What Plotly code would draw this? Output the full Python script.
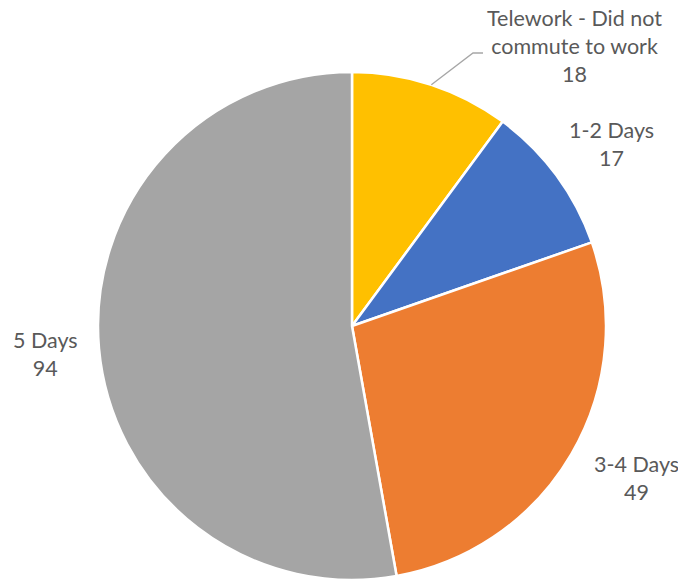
import math
import plotly.graph_objects as go

labels = ["Telework - Did not<br>commute to work", "1-2 Days", "3-4 Days", "5 Days"]
values = [18, 17, 49, 94]
colors = ["#FFC000", "#4472C4", "#ED7D31", "#A5A5A5"]

W, H = 678, 580
CX, CY, R = 352, 326, 254  # pie centre and radius in pixels


def px(x):
    return x / W


def py(y):
    return 1 - y / H


fig = go.Figure(go.Pie(
    labels=labels,
    values=values,
    sort=False,
    direction="clockwise",
    rotation=0,
    marker=dict(colors=colors, line=dict(color="white", width=2.5)),
    textinfo="none",
    hoverinfo="label+value",
    showlegend=False,
    domain=dict(x=[px(CX - R), px(CX + R)], y=[py(CY + R), py(CY - R)]),
))

# outside data labels (category + value)
label_pos = [(574, 46), (611, 144), (636, 478), (45, 354)]
font = dict(family="Lato, Carlito, sans-serif", size=21.5, color="#595959")
for lab, val, (x, y) in zip(labels, values, label_pos):
    fig.add_annotation(
        x=px(x), y=py(y), xref="paper", yref="paper",
        text=f"{lab}<br>{val}", showarrow=False, font=font,
        align="center", xanchor="center", yanchor="middle",
    )

# leader line for the first slice, starting at its mid-angle on the rim
total = sum(values)
mid = math.radians(values[0] / total * 360 / 2)
x0 = CX + R * math.sin(mid)
y0 = CY - R * math.cos(mid)
fig.add_shape(
    type="path", xref="paper", yref="paper",
    path=f"M {px(x0)},{py(y0)} L {px(473)},{py(53)} L {px(483)},{py(53)}",
    line=dict(color="#A6A6A6", width=1.3),
)

fig.update_layout(
    width=W, height=H,
    margin=dict(l=0, r=0, t=0, b=0),
    paper_bgcolor="white",
    plot_bgcolor="white",
)

fig.write_html("out.html")
